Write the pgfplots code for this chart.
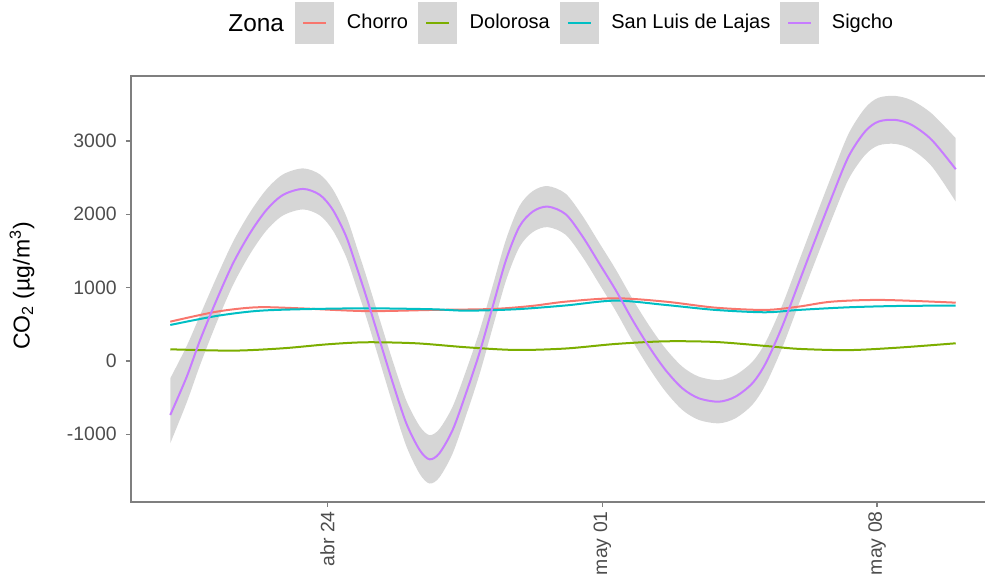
\documentclass[border=0pt]{standalone}
\usepackage{fontspec}
\setmainfont{Liberation Sans}
\usepackage{pgfplots}
\usepackage{pgfplotstable}
\pgfplotsset{compat=1.18}
\usepgfplotslibrary{fillbetween}
\definecolor{cChorro}{HTML}{F8766D}
\definecolor{cDolo}{HTML}{7CAE00}
\definecolor{cSanLuis}{HTML}{00BFC4}
\definecolor{cSigcho}{HTML}{C77CFF}
\definecolor{keygray}{HTML}{D6D6D6}
\definecolor{ribgray}{HTML}{999999}
\definecolor{axgray}{HTML}{7F7F7F}
\definecolor{txtgray}{HTML}{4D4D4D}

\pgfplotstableread{
d v
-4 536
-2.82 672
-1.80 732
-0.71 718
0.99 680
2.69 696
4.21 709
5.20 750
6.07 809
7.34 855
8.61 809
9.88 727
11.15 696
12.0 741
12.85 809
14.12 832
16 795
}\chorro

\pgfplotstableread{
d v
-4 159
-2.40 141
-1.13 173
0 227
0.99 255
2.26 241
3.53 187
4.80 150
6.07 170
7.34 232
8.61 268
9.88 259
11.15 205
12.0 165
13.27 148
14.54 182
16 241
}\dolorosa

\pgfplotstableread{
d v
-4 491
-2.82 614
-1.80 682
-0.71 705
0.99 718
2.69 705
3.53 686
4.80 705
6.07 757
7.34 823
8.61 764
9.88 696
11.15 664
12.0 696
13.27 732
14.54 750
16 755
}\sanluis

\pgfplotstableread{
d v lo hi
-4 -737 -1122 -237
-3.58 -214 -564 206
-3.24 286 -54 626
-2.82 832 522 1142
-2.40 1333 1038 1628
-1.97 1742 1457 2027
-1.55 2060 1780 2340
-1.13 2264 1984 2544
-0.62 2346 2066 2626
-0.19 2264 1984 2544
0.14 2060 1780 2340
0.48 1696 1416 1976
0.74 1287 1007 1567
0.99 878 598 1158
1.33 286 1 571
1.67 -305 -600 -10
2.01 -850 -1160 -540
2.35 -1214 -1539 -889
2.60 -1341 -1671 -1011
2.85 -1260 -1590 -930
3.19 -941 -1261 -621
3.53 -441 -746 -136
3.87 105 -190 400
4.21 741 456 1026
4.55 1378 1098 1658
4.89 1832 1552 2112
5.23 2037 1757 2317
5.61 2105 1825 2385
6.07 2000 1720 2280
6.50 1696 1416 1976
6.92 1333 1053 1613
7.34 968 685 1251
7.77 559 272 846
8.19 195 -95 485
8.61 -123 -416 170
9.04 -373 -668 -78
9.46 -509 -804 -214
9.97 -555 -850 -260
10.39 -487 -782 -192
10.82 -305 -598 -12
11.16 -32 -322 258
11.58 468 178 758
12.0 1060 770 1350
12.42 1650 1355 1945
12.85 2241 1941 2541
13.27 2787 2477 3097
13.69 3128 2808 3448
14.03 3264 2939 3589
14.46 3287 2960 3614
14.88 3219 2884 3554
15.39 3014 2654 3374
16 2615 2173 3037
}\sigcho

\begin{document}
\begin{tikzpicture}
\begin{axis}[
  scale only axis,
  width=432pt, height=213pt,
  at={(0pt,0pt)}, anchor=south west,
  xmin=-5, xmax=17, ymin=-1923, ymax=3886,
  axis line style={axgray, line width=0.7pt},
  xtick={0,7,14},
  xticklabels={abr 24, may 01, may 08},
  ytick={-1000,0,1000,2000,3000},
  yticklabels={-1000,0,1000,2000,3000},
  tick align=outside,
  xtick pos=bottom, ytick pos=left,
  major tick length=2.5pt,
  tick style={axgray, line width=0.7pt},
  tick label style={font=\fontsize{9.7}{11}\selectfont, text=txtgray},
  yticklabel style={anchor=east, inner sep=0pt, xshift=-4.5pt},
  xticklabel style={rotate=90, anchor=east, inner sep=0pt, xshift=-2pt},
  ylabel={CO\textsubscript{2} (µg/m\textsuperscript{3})},
  ylabel style={at={(axis description cs:-0.1262,0.507)}, anchor=center, font=\fontsize{11.5}{13}\selectfont},
  legend columns=4,
  legend style={at={(axis description cs:0.1898,1.1244)}, anchor=west, draw=none, fill=none,
    inner sep=0pt, font=\fontsize{10}{12}\selectfont,
    nodes={inner sep=0pt},
    /tikz/every odd column/.append style={column sep=6.3pt},
    /tikz/every even column/.append style={column sep=5pt}},
  legend image code/.code={\fill[keygray,draw=none] (0pt,-10.5pt) rectangle (19.5pt,10.5pt);
     \draw[line width=1pt,#1] (4pt,0pt) -- (15.5pt,0pt);},
]
\addplot[cChorro, line width=1pt, smooth] table[x=d,y=v]{\chorro};
\addlegendentry{Chorro}
\addplot[cDolo, line width=1pt, smooth] table[x=d,y=v]{\dolorosa};
\addlegendentry{Dolorosa}
\addplot[cSanLuis, line width=1pt, smooth] table[x=d,y=v]{\sanluis};
\addlegendentry{San Luis de Lajas}
\addplot[draw=none, smooth, name path=up, forget plot] table[x=d,y=hi]{\sigcho};
\addplot[draw=none, smooth, name path=lo, forget plot] table[x=d,y=lo]{\sigcho};
\addplot[fill=ribgray, fill opacity=0.4, draw=none, forget plot] fill between[of=up and lo];
\addplot[cSigcho, line width=1pt, smooth] table[x=d,y=v]{\sigcho};
\addlegendentry{Sigcho}
\end{axis}
\node[anchor=west, inner sep=0pt, font=\fontsize{12.2}{14}\selectfont] at (48.5pt,239.5pt) {Zona};
\pgfresetboundingbox
\useasboundingbox (-65.5pt,-39.5pt) rectangle (427pt,251pt);
\end{tikzpicture}
\end{document}
